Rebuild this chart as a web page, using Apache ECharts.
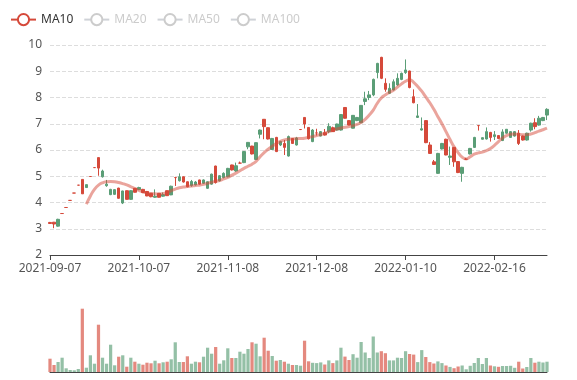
<!DOCTYPE html>
<html><head><meta charset="utf-8">
<script src="https://cdn.jsdelivr.net/npm/echarts@6/dist/echarts.min.js"></script>
<style>html,body{margin:0;padding:0;background:#fff}#c{width:577px;height:380px}</style>
</head><body><div id="c"></div>
<script>
// categories (trading days)
const dates = [
'2021-09-07','2021-09-08','2021-09-09','2021-09-10','2021-09-13','2021-09-14','2021-09-15','2021-09-16','2021-09-17','2021-09-20',
'2021-09-21','2021-09-22','2021-09-23','2021-09-24','2021-09-27','2021-09-28','2021-09-29','2021-09-30','2021-10-01','2021-10-04',
'2021-10-05','2021-10-06','2021-10-07','2021-10-08','2021-10-11','2021-10-12','2021-10-13','2021-10-14','2021-10-15','2021-10-18',
'2021-10-19','2021-10-20','2021-10-21','2021-10-22','2021-10-25','2021-10-26','2021-10-27','2021-10-28','2021-10-29','2021-11-01',
'2021-11-02','2021-11-03','2021-11-04','2021-11-05','2021-11-08','2021-11-09','2021-11-10','2021-11-11','2021-11-12','2021-11-15',
'2021-11-16','2021-11-17','2021-11-18','2021-11-19','2021-11-22','2021-11-23','2021-11-24','2021-11-25','2021-11-26','2021-11-29',
'2021-11-30','2021-12-01','2021-12-02','2021-12-03','2021-12-06','2021-12-07','2021-12-08','2021-12-09','2021-12-10','2021-12-13',
'2021-12-14','2021-12-15','2021-12-16','2021-12-17','2021-12-20','2021-12-21','2021-12-22','2021-12-23','2021-12-27','2021-12-28',
'2021-12-29','2021-12-30','2021-12-31','2022-01-03','2022-01-04','2022-01-05','2022-01-06','2022-01-07','2022-01-10','2022-01-11',
'2022-01-12','2022-01-13','2022-01-14','2022-01-17','2022-01-18','2022-01-19','2022-01-20','2022-01-21','2022-01-24','2022-01-25',
'2022-01-26','2022-01-27','2022-01-28','2022-02-07','2022-02-08','2022-02-09','2022-02-10','2022-02-11','2022-02-14','2022-02-15',
'2022-02-16','2022-02-17','2022-02-18','2022-02-21','2022-02-22','2022-02-23','2022-02-24','2022-02-25','2022-02-28','2022-03-01',
'2022-03-02','2022-03-03','2022-03-04','2022-03-07'
];
// [open, close, low, high]
const ohlc = [
[3.20,3.24,3.18,3.26],[3.18,3.25,3.02,3.26],[3.36,3.10,3.08,3.38],[3.58,3.58,3.58,3.58],[3.81,3.81,3.81,3.81],
[4.08,4.08,4.08,4.08],[4.36,4.36,4.36,4.36],[4.66,4.66,4.66,4.66],[4.33,4.88,4.33,4.88],[4.68,4.57,4.57,4.68],
[4.99,4.99,4.99,4.99],[5.33,5.33,5.33,5.33],[5.31,5.71,5.02,5.71],[5.20,4.98,4.95,5.25],[4.70,4.64,4.60,4.86],
[4.50,4.30,4.28,4.52],[4.49,4.31,4.29,4.51],[4.16,4.55,4.15,4.56],[4.44,3.98,3.94,4.45],[4.12,4.45,4.11,4.46],
[4.45,4.12,4.10,4.47],[4.39,4.54,4.38,4.55],[4.57,4.49,4.47,4.60],[4.38,4.50,4.36,4.52],[4.25,4.42,4.24,4.44],
[4.22,4.35,4.20,4.36],[4.24,4.20,4.18,4.50],[4.20,4.35,4.19,4.36],[4.30,4.24,4.22,4.38],[4.26,4.45,4.25,4.46],
[4.62,4.29,4.28,4.64],[4.95,4.95,4.63,4.98],[4.98,4.83,4.80,5.11],[4.78,4.98,4.76,4.99],[4.60,4.79,4.58,4.80],
[4.80,4.65,4.60,4.86],[4.78,4.67,4.65,4.82],[4.70,4.86,4.68,4.87],[4.86,4.73,4.72,4.88],[4.79,4.54,4.52,4.80],
[5.08,4.70,4.68,5.10],[4.76,5.39,4.72,5.40],[5.02,4.83,4.80,5.04],[5.11,4.95,4.92,5.15],[5.30,4.98,4.96,5.32],
[5.24,5.43,5.22,5.44],[5.40,5.20,5.17,5.52],[5.50,5.50,5.48,5.56],[5.94,5.52,5.50,5.96],[6.29,6.12,6.03,6.30],
[5.85,6.15,5.83,6.16],[6.28,5.64,5.62,6.29],[6.76,6.60,6.44,6.78],[6.89,7.17,6.41,7.18],[6.42,6.85,6.40,6.86],
[6.44,6.02,6.00,6.46],[5.94,6.48,5.92,6.50],[6.32,6.19,6.15,6.35],[6.10,6.25,5.81,6.38],[6.51,5.77,5.75,6.55],
[6.25,6.44,6.24,6.45],[6.46,6.19,6.17,6.50],[6.78,6.78,6.76,6.80],[6.99,7.24,6.82,7.25],[6.43,6.86,6.40,6.87],
[6.76,6.32,6.30,6.80],[6.65,6.65,6.55,6.81],[6.70,6.53,6.52,6.72],[6.57,6.66,6.55,6.80],[6.90,6.70,6.64,7.02],
[6.70,6.85,6.69,6.89],[6.99,6.76,6.74,7.00],[7.35,6.76,6.74,7.36],[7.21,7.62,7.20,7.63],[6.95,7.12,6.94,7.13],
[7.32,6.83,6.82,7.33],[7.24,7.12,7.10,7.26],[7.70,7.04,7.02,7.71],[7.95,7.85,7.71,8.22],[8.10,8.00,7.90,8.25],
[8.69,8.10,8.05,8.72],[9.30,8.95,8.73,9.32],[8.73,9.53,8.70,9.55],[8.31,8.54,8.22,8.73],[8.35,8.16,8.13,8.54],
[8.60,8.29,8.27,8.69],[8.73,8.48,8.45,8.92],[8.92,8.69,8.66,8.95],[9.05,8.95,8.90,9.45],[8.38,9.01,8.35,9.02],
[7.80,8.03,7.78,8.31],[7.30,7.24,7.22,7.75],[6.81,6.76,6.74,7.24],[6.28,7.12,6.26,7.13],[5.87,6.19,5.85,6.30],
[5.45,5.55,5.43,5.62],[5.87,5.11,5.09,5.89],[6.25,6.04,6.02,6.27],[5.81,6.41,5.80,6.43],[5.77,5.72,5.43,6.13],
[5.55,6.10,5.36,6.11],[5.14,5.56,5.12,5.57],[5.34,5.11,4.79,5.36],[5.65,5.65,5.62,5.70],[6.06,5.85,5.83,6.08],
[6.48,6.10,6.08,6.50],[6.93,6.93,6.74,6.94],[6.47,6.41,6.40,6.48],[6.70,6.42,6.40,6.86],[6.48,6.67,6.32,6.69],
[6.58,6.51,6.38,6.72],[6.44,6.55,6.43,6.56],[6.69,6.36,6.34,6.79],[6.79,6.64,6.62,6.80],[6.70,6.48,6.46,6.72],
[6.70,6.53,6.51,6.72],[6.25,6.64,6.19,6.76],[6.38,6.53,6.36,6.55],[6.64,6.38,6.36,6.66],[7.02,6.76,6.70,7.04],
[6.89,7.04,6.79,7.21],[7.21,6.95,6.93,7.30],[7.24,7.12,7.10,7.26],[7.55,7.33,7.14,7.59]
];
// volume (10k)
const volumes = [
133,70,100,143,37,20,17,30,633,43,
167,83,473,143,83,273,67,153,167,53,
143,103,83,73,93,87,113,87,97,103,
127,297,100,100,157,83,103,97,153,243,
183,250,83,117,237,140,140,203,183,230,
297,283,157,343,213,160,113,120,103,83,
70,70,63,313,107,92,89,96,75,116,
89,116,243,154,120,178,143,300,195,140,
355,195,208,188,116,116,143,140,208,180,
174,99,219,150,99,85,106,89,65,51,
38,55,65,27,62,90,140,80,140,65,
57,52,60,60,62,42,103,35,50,140,
93,103,95,103
];
// MA10 as drawn
const ma10 = ['-','-','-','-','-','-','-','-','-',
3.94,4.25,4.50,4.66,4.75,4.79,4.80,4.79,4.76,4.72,4.67,
4.60,4.53,4.46,4.40,4.36,4.34,4.33,4.32,4.34,4.38,
4.45,4.51,4.56,4.59,4.61,4.63,4.65,4.66,4.69,4.73,
4.77,4.81,4.84,4.90,4.96,5.04,5.12,5.21,5.30,5.38,
5.46,5.57,5.74,5.90,6.03,6.14,6.25,6.33,6.38,6.41,
6.42,6.43,6.44,6.45,6.48,6.51,6.55,6.59,6.64,6.70,
6.75,6.80,6.84,6.87,6.89,6.93,6.98,7.05,7.17,7.33,
7.52,7.78,7.98,8.10,8.20,8.28,8.40,8.52,8.62,8.68,
8.58,8.42,8.24,8.02,7.80,7.55,7.27,7.00,6.70,6.40,
6.12,5.90,5.73,5.66,5.74,5.84,5.89,5.92,5.98,6.06,
6.18,6.32,6.46,6.55,6.60,6.61,6.60,6.58,6.58,6.61,
6.66,6.72,6.77,6.83
];
const ma20 = [], ma50 = [], ma100 = [];
const legendNames = ['MA10','MA20','MA50','MA100'];
const priceMin = 2, priceMax = 10, priceStep = 1;
const volMax = 720;

const UP = '#d5493a', DOWN = '#5b9e77';
const FONT = 'Noto Sans';
const volData = volumes.map((v, i) => ({
  value: v,
  itemStyle: { color: ohlc[i][1] > ohlc[i][0] ? UP : DOWN }
}));

const chart = echarts.init(document.getElementById('c'), null, {renderer: 'canvas'});
chart.setOption({
  animation: false,
  textStyle: { fontFamily: FONT },
  legend: {
    data: legendNames, left: 5, top: 8, itemWidth: 25, itemHeight: 14, itemGap: 10,
    textStyle: { color: '#333', fontSize: 12, fontFamily: FONT },
    inactiveColor: '#ccc',
    lineStyle: { opacity: 1, width: 2 },
    selected: { MA10: true, MA20: false, MA50: false, MA100: false }
  },
  grid: [
    { left: 50, right: 30, top: 45, height: 210 },
    { left: 50, right: 30, top: 300, height: 72 }
  ],
  xAxis: [
    { type: 'category', data: dates, boundaryGap: false, gridIndex: 0,
      axisLine: { lineStyle: { color: '#444' } },
      axisTick: { interval: 21, lineStyle: { color: '#444' } },
      axisLabel: { interval: 21, color: '#555', fontSize: 12, fontFamily: FONT },
      splitLine: { show: false } },
    { type: 'category', data: dates, boundaryGap: false, gridIndex: 1,
      axisLine: { lineStyle: { color: '#444' } },
      axisTick: { show: false }, axisLabel: { show: false }, splitLine: { show: false } }
  ],
  yAxis: [
    { type: 'value', gridIndex: 0, min: priceMin, max: priceMax, interval: priceStep,
      axisLine: { show: false }, axisTick: { show: false },
      axisLabel: { color: '#555', fontSize: 12, fontFamily: FONT },
      splitLine: { lineStyle: { type: 'dashed', color: '#ddd' } } },
    { type: 'value', gridIndex: 1, min: 0, max: volMax, show: false,
      splitLine: { show: false } }
  ],
  series: [
    { name: 'K', type: 'candlestick', data: ohlc, xAxisIndex: 0, yAxisIndex: 0, clip: false,
      barWidth: 3,
      itemStyle: { color: UP, color0: DOWN, borderColor: UP, borderColor0: DOWN, borderWidth: 1 } },
    { name: 'MA10', type: 'line', data: ma10, smooth: true, showSymbol: false,
      color: UP, lineStyle: { width: 3, opacity: 0.5 } },
    { name: 'MA20', type: 'line', data: ma20, smooth: true, showSymbol: false,
      color: '#5070dd', lineStyle: { width: 3, opacity: 0.5 } },
    { name: 'MA50', type: 'line', data: ma50, smooth: true, showSymbol: false,
      color: '#b6d634', lineStyle: { width: 3, opacity: 0.5 } },
    { name: 'MA100', type: 'line', data: ma100, smooth: true, showSymbol: false,
      color: '#ff994d', lineStyle: { width: 3, opacity: 0.5 } },
    { name: 'Volume', type: 'bar', data: volData, xAxisIndex: 1, yAxisIndex: 1,
      barCategoryGap: '20%', itemStyle: { opacity: 0.65 } }
  ]
});
</script></body></html>
